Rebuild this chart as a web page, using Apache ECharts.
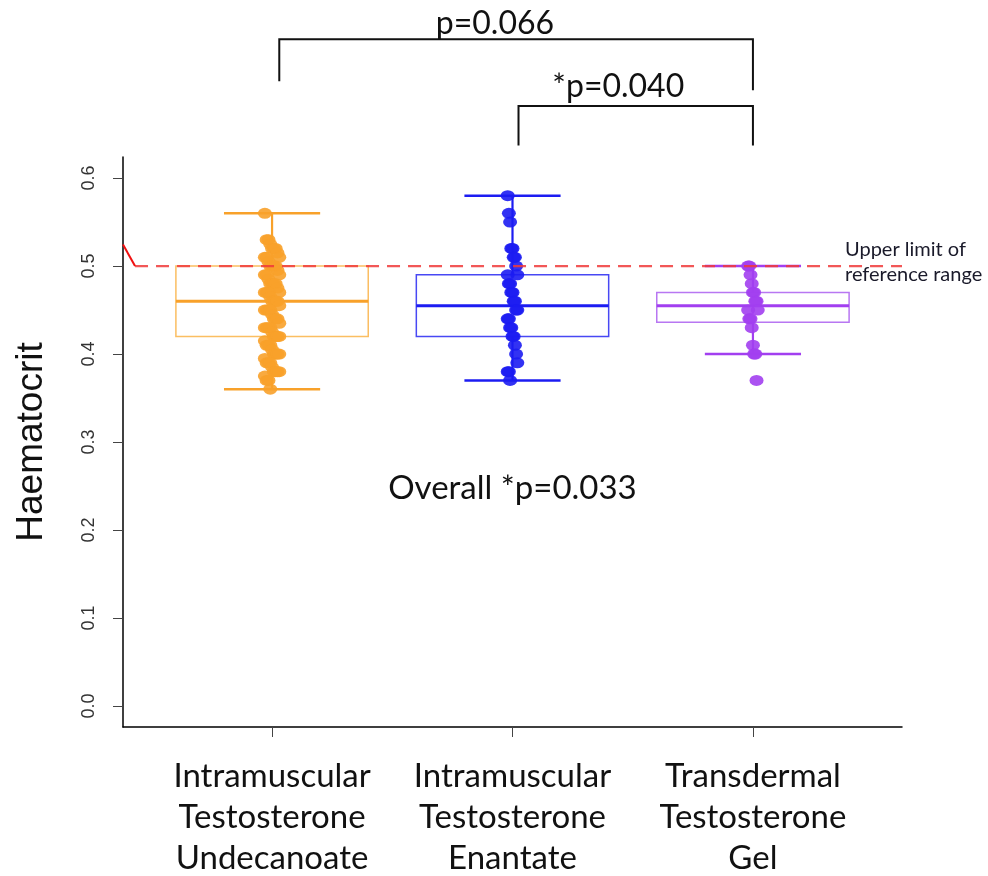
<!DOCTYPE html>
<html>
<head>
<meta charset="utf-8">
<script src="https://cdn.jsdelivr.net/npm/echarts@6/dist/echarts.min.js"></script>
<style>html,body{margin:0;padding:0;background:#fff;}#c{width:988px;height:876px;}</style>
</head>
<body>
<div id="c"></div>
<script>
// ---- data ----
const categories = ['Intramuscular\nTestosterone\nUndecanoate', 'Intramuscular\nTestosterone\nEnantate', 'Transdermal\nTestosterone\nGel'];
// [low whisker, Q1, median, Q3, high whisker]
const boxStats = [
  [0.36, 0.42, 0.46, 0.50, 0.56],
  [0.37, 0.42, 0.455, 0.49, 0.58],
  [0.40, 0.436, 0.455, 0.47, 0.50]
];
const undecanoateValues = [0.56, 0.53, 0.53, 0.525, 0.52, 0.52, 0.52, 0.515, 0.51, 0.51, 0.51, 0.505, 0.50, 0.50, 0.50, 0.50,
  0.495, 0.49, 0.49, 0.49, 0.485, 0.48, 0.48, 0.48, 0.48, 0.475, 0.47, 0.47, 0.47, 0.47, 0.465, 0.46, 0.46, 0.46, 0.46,
  0.455, 0.45, 0.45, 0.45, 0.45, 0.445, 0.44, 0.44, 0.44, 0.435, 0.43, 0.43, 0.43, 0.43, 0.425, 0.42, 0.42, 0.42, 0.42,
  0.415, 0.41, 0.41, 0.41, 0.405, 0.40, 0.40, 0.40, 0.40, 0.395, 0.39, 0.39, 0.39, 0.385, 0.38, 0.38, 0.38, 0.38,
  0.375, 0.37, 0.37, 0.36];
const enantateValues = [0.58, 0.56, 0.55, 0.52, 0.52, 0.51, 0.51, 0.50, 0.49, 0.49, 0.48, 0.48, 0.47, 0.47,
  0.46, 0.46, 0.45, 0.45, 0.44, 0.44, 0.43, 0.43, 0.42, 0.42, 0.41, 0.40, 0.39, 0.38, 0.38, 0.37];
const gelValues = [0.50, 0.50, 0.49, 0.48, 0.47, 0.47, 0.46, 0.46, 0.45, 0.45, 0.44, 0.44, 0.43, 0.41, 0.40, 0.40, 0.37];
const yTicks = [0, 0.1, 0.2, 0.3, 0.4, 0.5, 0.6];
const upperLimit = 0.5;
const upperLimitLabel = 'Upper limit of\nreference range';
// comparison brackets: [x1, x2, yTop, yLeftEnd, yRightEnd, label, labelX, labelY]
const comparisons = [
  [1.03, 3.0, 0.758, 0.710, 0.700, 'p=0.066', 1.927, 0.776],
  [2.025, 3.0, 0.682, 0.637, 0.637, '*p=0.040', 2.44, 0.704]
];
const overallLabel = 'Overall *p=0.033';

// ---- styles ----
const colors = ['#F8A12A', '#1C1CF2', '#A23FF0'];
const boxLine = ['#FBBE62', '#4848F4', '#B877F2'];
const jitterScale = [0.0075, 0.005, 0.005];

function pts(vals, gi) {
  return vals.map((v, i) => [gi + 1 + (((i * 37) % 9) - 4) * jitterScale[gi], v]);
}

const chart = echarts.init(document.getElementById('c'), null, {renderer: 'canvas'});
const txtFont = 'Lato, "Open Sans", sans-serif';

chart.setOption({
  animation: false,
  backgroundColor: '#fff',
  grid: {left: 123, right: 86, top: 157, bottom: 149, containLabel: false, outerBoundsMode: 'none'},
  xAxis: {
    type: 'value', min: 0.38, max: 3.62,
    axisLine: {show: true, onZero: false, lineStyle: {color: '#000', width: 1.5}},
    splitLine: {show: false},
    axisTick: {show: true, customValues: [1, 2, 3], length: 10, lineStyle: {color: '#444', width: 1}},
    axisLabel: {
      customValues: [1, 2, 3], margin: 29,
      formatter: v => categories[Math.round(v) - 1],
      fontFamily: txtFont, fontSize: 33, lineHeight: 41, color: '#111'
    }
  },
  yAxis: {
    type: 'value', min: -0.024, max: 0.624,
    name: 'Haematocrit', nameLocation: 'middle', nameGap: 73,
    nameTextStyle: {fontFamily: 'Liberation Sans, Arial, sans-serif', fontSize: 37, color: '#111'},
    axisLine: {show: true, onZero: false, lineStyle: {color: '#000', width: 1.5}},
    splitLine: {show: false},
    axisTick: {show: true, customValues: yTicks, length: 10, lineStyle: {color: '#444', width: 1}},
    axisLabel: {
      customValues: yTicks, rotate: 90, margin: 25,
      formatter: v => v.toFixed(1),
      fontFamily: 'Liberation Sans, Arial, sans-serif', fontSize: 18, color: '#333'
    }
  },
  series: [
    {
      type: 'custom', name: 'boxes', z: 2,
      data: boxStats.map((s, i) => [i + 1].concat(s)),
      renderItem: function (params, api) {
        const i = params.dataIndex;
        const x = api.value(0);
        const lo = api.coord([x, api.value(1)]);
        const q1 = api.coord([x, api.value(2)]);
        const md = api.coord([x, api.value(3)]);
        const q3 = api.coord([x, api.value(4)]);
        const hi = api.coord([x, api.value(5)]);
        const hw = api.size([0.8, 0])[0] / 2;
        const cw = api.size([0.4, 0])[0] / 2;
        const c = colors[i];
        return {
          type: 'group', children: [
            {type: 'rect', shape: {x: q3[0] - hw, y: q3[1], width: 2 * hw, height: q1[1] - q3[1]},
              style: {fill: 'none', stroke: boxLine[i], lineWidth: 1.5}},
            {type: 'line', shape: {x1: md[0] - hw, y1: md[1], x2: md[0] + hw, y2: md[1]},
              style: {stroke: c, lineWidth: 3}},
            {type: 'line', shape: {x1: hi[0], y1: hi[1], x2: q3[0], y2: q3[1]}, style: {stroke: c, lineWidth: 2.2}},
            {type: 'line', shape: {x1: lo[0], y1: lo[1], x2: q1[0], y2: q1[1]}, style: {stroke: c, lineWidth: 2.2}},
            {type: 'line', shape: {x1: hi[0] - cw, y1: hi[1], x2: hi[0] + cw, y2: hi[1]}, style: {stroke: c, lineWidth: 2.5}},
            {type: 'line', shape: {x1: lo[0] - cw, y1: lo[1], x2: lo[0] + cw, y2: lo[1]}, style: {stroke: c, lineWidth: 2.5}}
          ]
        };
      }
    },
    {type: 'scatter', z: 3, data: pts(undecanoateValues, 0), symbol: 'circle', symbolSize: [14, 11],
      itemStyle: {color: colors[0], opacity: 0.9}},
    {type: 'scatter', z: 3, data: pts(enantateValues, 1), symbol: 'circle', symbolSize: [14, 11],
      itemStyle: {color: colors[1], opacity: 0.9}},
    {type: 'scatter', z: 3, data: pts(gelValues, 2), symbol: 'circle', symbolSize: [14, 11],
      itemStyle: {color: colors[2], opacity: 0.9}},
    {
      type: 'line', z: 4, symbol: 'none', silent: true,
      data: [[0.43, upperLimit], [3.62, upperLimit]],
      lineStyle: {color: '#F03A3A', width: 2.2, type: [13, 8], opacity: 0.85}
    },
    {
      type: 'line', z: 4, symbol: 'none', silent: true,
      data: [[0.38, 0.5245], [0.43, upperLimit]],
      lineStyle: {color: '#F01010', width: 2}
    },
    {
      type: 'custom', name: 'annotations', z: 5, clip: false,
      data: comparisons.map((c, i) => [i]),
      renderItem: function (params, api) {
        const c = comparisons[params.dataIndex];
        const a = api.coord([c[0], c[2]]);
        const b = api.coord([c[1], c[2]]);
        const al = api.coord([c[0], c[3]]);
        const br = api.coord([c[1], c[4]]);
        const t = api.coord([c[6], c[7]]);
        return {
          type: 'group', children: [
            {type: 'polyline', shape: {points: [al, a, b, br]}, style: {fill: 'none', stroke: '#111', lineWidth: 2}},
            {type: 'text', x: t[0], y: t[1], style: {text: c[5], align: 'center', verticalAlign: 'middle',
              font: '32px ' + txtFont, fill: '#111'}}
          ]
        };
      }
    },
    {
      type: 'custom', z: 5, clip: false,
      data: [[2.0, 0.247, 0], [3.383, 0.5045, 1]],
      renderItem: function (params, api) {
        const p = api.coord([api.value(0), api.value(1)]);
        if (api.value(2) === 0) {
          return {type: 'text', x: p[0], y: p[1], style: {text: overallLabel, align: 'center', verticalAlign: 'middle',
            font: '33px ' + txtFont, fill: '#111'}};
        }
        return {type: 'text', x: p[0], y: p[1], style: {text: upperLimitLabel, align: 'left', verticalAlign: 'middle',
          font: '20px ' + txtFont, lineHeight: 25, fill: '#1a1a2a'}};
      }
    }
  ]
});
</script>
</body>
</html>
